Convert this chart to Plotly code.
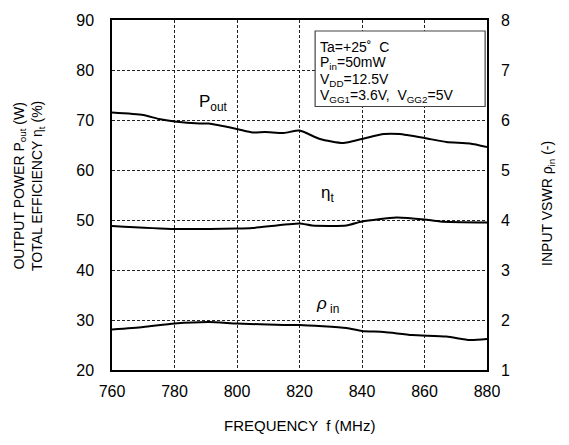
import plotly.graph_objects as go

freq_pout = [760, 770, 775, 780, 788, 791, 800, 805, 809, 815, 820, 826.5, 834, 840, 847, 852, 860, 867, 874.5, 880]
pout = [71.5, 71.0, 70.2, 69.7, 69.3, 69.3, 68.2, 67.5, 67.6, 67.4, 67.9, 66.2, 65.4, 66.2, 67.2, 67.2, 66.4, 65.6, 65.3, 64.6]

freq_eta = [760, 780, 800, 805, 820, 824, 835, 840, 851, 860, 865, 880]
eta = [48.8, 48.2, 48.3, 48.4, 49.3, 48.9, 48.9, 49.7, 50.5, 50.1, 49.7, 49.5]

freq_rho = [760, 770, 780, 791, 800, 815, 820, 835, 840, 847, 856, 867, 874.5, 880]
rho = [1.81, 1.86, 1.93, 1.96, 1.93, 1.90, 1.90, 1.84, 1.78, 1.76, 1.70, 1.67, 1.60, 1.62]

x_ticks = [760, 780, 800, 820, 840, 860, 880]
left_ticks = [20, 30, 40, 50, 60, 70, 80, 90]
right_ticks = [1, 2, 3, 4, 5, 6, 7, 8]

FONT = "Arial, Liberation Sans, sans-serif"
line = dict(color="black", width=2, shape="spline", smoothing=0.6)

fig = go.Figure()
fig.add_trace(go.Scatter(x=freq_pout, y=pout, mode="lines", line=line, yaxis="y"))
fig.add_trace(go.Scatter(x=freq_eta, y=eta, mode="lines", line=line, yaxis="y"))
fig.add_trace(go.Scatter(x=freq_rho, y=rho, mode="lines", line=line, yaxis="y2"))

grid = dict(showgrid=True, gridcolor="#222222", griddash="3px,2px", gridwidth=1)
fig.update_layout(
    width=569, height=445,
    margin=dict(l=112, r=82, t=13, b=75),
    paper_bgcolor="white", plot_bgcolor="white",
    showlegend=False,
    font=dict(family=FONT, size=15, color="black"),
    xaxis=dict(range=[760, 880], tickvals=x_ticks, ticks="", showline=True, linecolor="black",
               linewidth=1.5, mirror=True, zeroline=False, tickfont=dict(size=16),
               ticklabelstandoff=6, **grid),
    yaxis=dict(range=[20, 90], tickvals=left_ticks, ticks="", showline=True, linecolor="black",
               linewidth=1.5, mirror=True, zeroline=False, tickfont=dict(size=16),
               ticklabelstandoff=13, **grid),
    yaxis2=dict(range=[1, 8], tickvals=right_ticks, overlaying="y", side="right", showgrid=False,
                ticks="", zeroline=False, tickfont=dict(size=16), ticklabelstandoff=13),
)

ann = []
ann.append(dict(xref="paper", yref="paper", x=0.5, y=-0.158, yanchor="middle",
                text="FREQUENCY  f (MHz)", showarrow=False, font=dict(size=15)))
ann.append(dict(xref="paper", yref="paper", x=-0.222, y=0.525, xanchor="center", yanchor="middle", textangle=-90,
                text="OUTPUT POWER P<sub>out</sub> (W)<br>TOTAL EFFICIENCY η<sub>t</sub> (%)",
                showarrow=False, font=dict(size=14)))
ann.append(dict(xref="paper", yref="paper", x=1.163, y=0.475, xanchor="center", yanchor="middle", textangle=-90,
                text="INPUT VSWR ρ<sub>in</sub> (-)", showarrow=False, font=dict(size=14)))
# series labels
ann.append(dict(x=792.6, y=73.5, text="P<sub>out</sub>", showarrow=False, font=dict(size=17)))
ann.append(dict(x=829.1, y=55.3, text="η<sub>t</sub>", showarrow=False, font=dict(size=17)))
ann.append(dict(x=828.8, y=33.0, text="<i>ρ</i><sub> in</sub>", showarrow=False, font=dict(size=17)))
# condition box text
box_lines = ["Ta=+25˚\u00a0\u00a0C", "P<sub>in</sub>=50mW", "V<sub>DD</sub>=12.5V",
             "V<sub>GG1</sub>=3.6V,  V<sub>GG2</sub>=5V"]
box_y = [84.7, 81.5, 78.1, 74.8]
for t, yv in zip(box_lines, box_y):
    ann.append(dict(x=825.8, y=yv, xanchor="left", yanchor="middle", text=t, showarrow=False,
                    font=dict(size=14)))
fig.update_layout(annotations=ann)
fig.add_shape(type="rect", xref="x", yref="y", x0=825.0, x1=879.4, y0=72.7, y1=87.8,
              line=dict(color="#444444", width=1.2), fillcolor="white", layer="above")
fig.write_html("out.html")
